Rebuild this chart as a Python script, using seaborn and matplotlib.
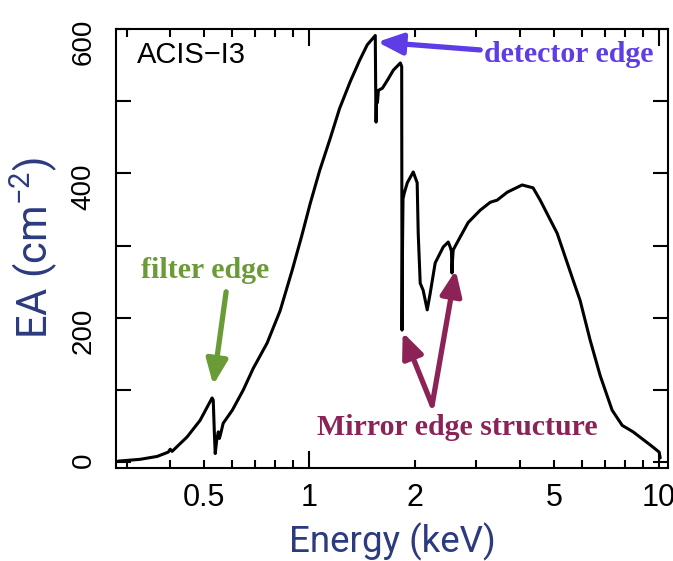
import matplotlib
matplotlib.use("Agg")
import matplotlib.pyplot as plt
import seaborn as sns
from matplotlib.ticker import FixedLocator, FuncFormatter

# effective area curve
energy_kev = [0.284, 0.328, 0.367, 0.395, 0.400, 0.405, 0.447, 0.487, 0.527,
              0.531, 0.535, 0.538, 0.543, 0.549, 0.553, 0.556, 0.567, 0.602,
              0.647, 0.691, 0.757, 0.825, 0.893, 0.949, 1.005, 1.070, 1.146,
              1.220, 1.308, 1.390, 1.463,
              1.543, 1.547, 1.551, 1.556, 1.565, 1.575, 1.617, 1.671, 1.738,
              1.820, 1.836, 1.840, 1.846, 1.852, 1.868, 1.905, 1.981, 2.033,
              2.047, 2.074, 2.115, 2.172, 2.215, 2.289, 2.413, 2.494, 2.527,
              2.548, 2.556, 2.566, 2.577, 2.699, 2.844, 3.078, 3.288, 3.443,
              3.680, 4.058, 4.360, 4.569, 5.110, 5.676, 5.943, 6.349, 6.781,
              7.338, 7.841, 8.425, 9.424, 10.00, 10.07]
ea_cm2 = [1.5, 4, 8, 14, 18, 15, 35, 58, 89,
          86, 40, 12, 30, 42, 33, 37, 54, 72,
          100, 130, 165, 210, 266, 312, 358, 404, 448,
          490, 527, 556, 578,
          591, 520, 471, 505, 498, 515, 518, 529, 543,
          553, 548, 183, 300, 365, 373, 387, 402, 387,
          317, 248, 238, 211, 234, 276, 298, 305, 298,
          292, 262, 280, 294, 312, 332, 349, 360, 363,
          374, 384, 380, 363, 317, 252, 224, 169, 120,
          72, 51, 42, 24, 14, 6]

x_major = [1, 10]
x_minor = [0.3, 0.4, 0.5, 0.6, 0.7, 0.8, 0.9, 2, 3, 4, 5, 6, 7, 8, 9]
x_labelled = [0.5, 1, 2, 5, 10]
y_ticks = [0, 100, 200, 300, 400, 500, 600]
y_labelled = [0, 200, 400, 600]

label_col = "#2c3a7e"
det_col = "#5e3ce6"
filt_col = "#6b9b37"
mirr_col = "#8c2356"

sns.set_theme(style="ticks")
plt.rcParams.update({
    "font.family": ["Liberation Sans", "DejaVu Sans"],
    "text.color": "black",
    "mathtext.fontset": "custom",
    "mathtext.rm": "Roboto",
    "mathtext.it": "Roboto",
    "axes.linewidth": 1.5,
    "axes.edgecolor": "black",
})

fig = plt.figure(figsize=(6.73, 5.61), dpi=100)
ax = fig.add_axes([0.1724, 0.1658, 0.8202, 0.7825])
ax.set_xscale("log")
sns.lineplot(x=energy_kev, y=ea_cm2, estimator=None, sort=False,
             color="black", lw=2.2, ax=ax)
ax.set_xlim(0.28, 10.6)
ax.set_ylim(-8, 600)

ax.xaxis.set_major_locator(FixedLocator(x_major))
ax.xaxis.set_minor_locator(FixedLocator(x_minor))
xfmt = FuncFormatter(lambda v, p: f"{v:g}" if any(abs(v - t) < 1e-9 for t in x_labelled) else "")
ax.xaxis.set_major_formatter(xfmt)
ax.xaxis.set_minor_formatter(xfmt)
ax.yaxis.set_major_locator(FixedLocator(y_ticks))
ax.yaxis.set_major_formatter(FuncFormatter(lambda v, p: f"{v:g}" if v in y_labelled else ""))

ax.tick_params(axis="both", which="both", direction="in", top=True, right=True,
               width=1.5, color="black", labelcolor="black")
ax.tick_params(axis="x", which="major", length=12, pad=11, labelsize=22)
ax.tick_params(axis="x", which="minor", length=6, pad=11, labelsize=22)
ax.tick_params(axis="y", which="major", length=10.5, pad=14, labelsize=20,
               labelrotation=90)

ax.set_xlabel("Energy (keV)", fontsize=26.5, family="Roboto", color=label_col, labelpad=7)
ax.set_ylabel("EA (cm$^{-2}$)", fontsize=30, family="Roboto", color=label_col, labelpad=8)

ax.text(0.322, 564, "ACIS\u2212I3", fontsize=21, ha="left", va="center")

serif = dict(family="Liberation Serif", fontweight="bold", fontsize=21.5,
             ha="center", va="center")
ax.text(5.53, 564, "detector edge", color=det_col, **serif)
ax.text(0.504, 266, "filter edge", color=filt_col, **serif)
ax.text(2.645, 48.5, "Mirror edge structure", color=mirr_col, **serif)


def arrow(tail, tip, col):
    ax.annotate("", xy=tip, xytext=tail,
                arrowprops=dict(arrowstyle="-|>,head_length=0.75,head_width=0.32",
                                mutation_scale=20, color=col, lw=3.8,
                                shrinkA=0, shrinkB=0))


arrow((3.078, 571), (1.564, 582), det_col)
arrow((0.578, 236), (0.531, 107), filt_col)
arrow((2.243, 79), (1.848, 180), mirr_col)
arrow((2.243, 79), (2.62, 266), mirr_col)

fig.savefig("out.png", dpi=100)
